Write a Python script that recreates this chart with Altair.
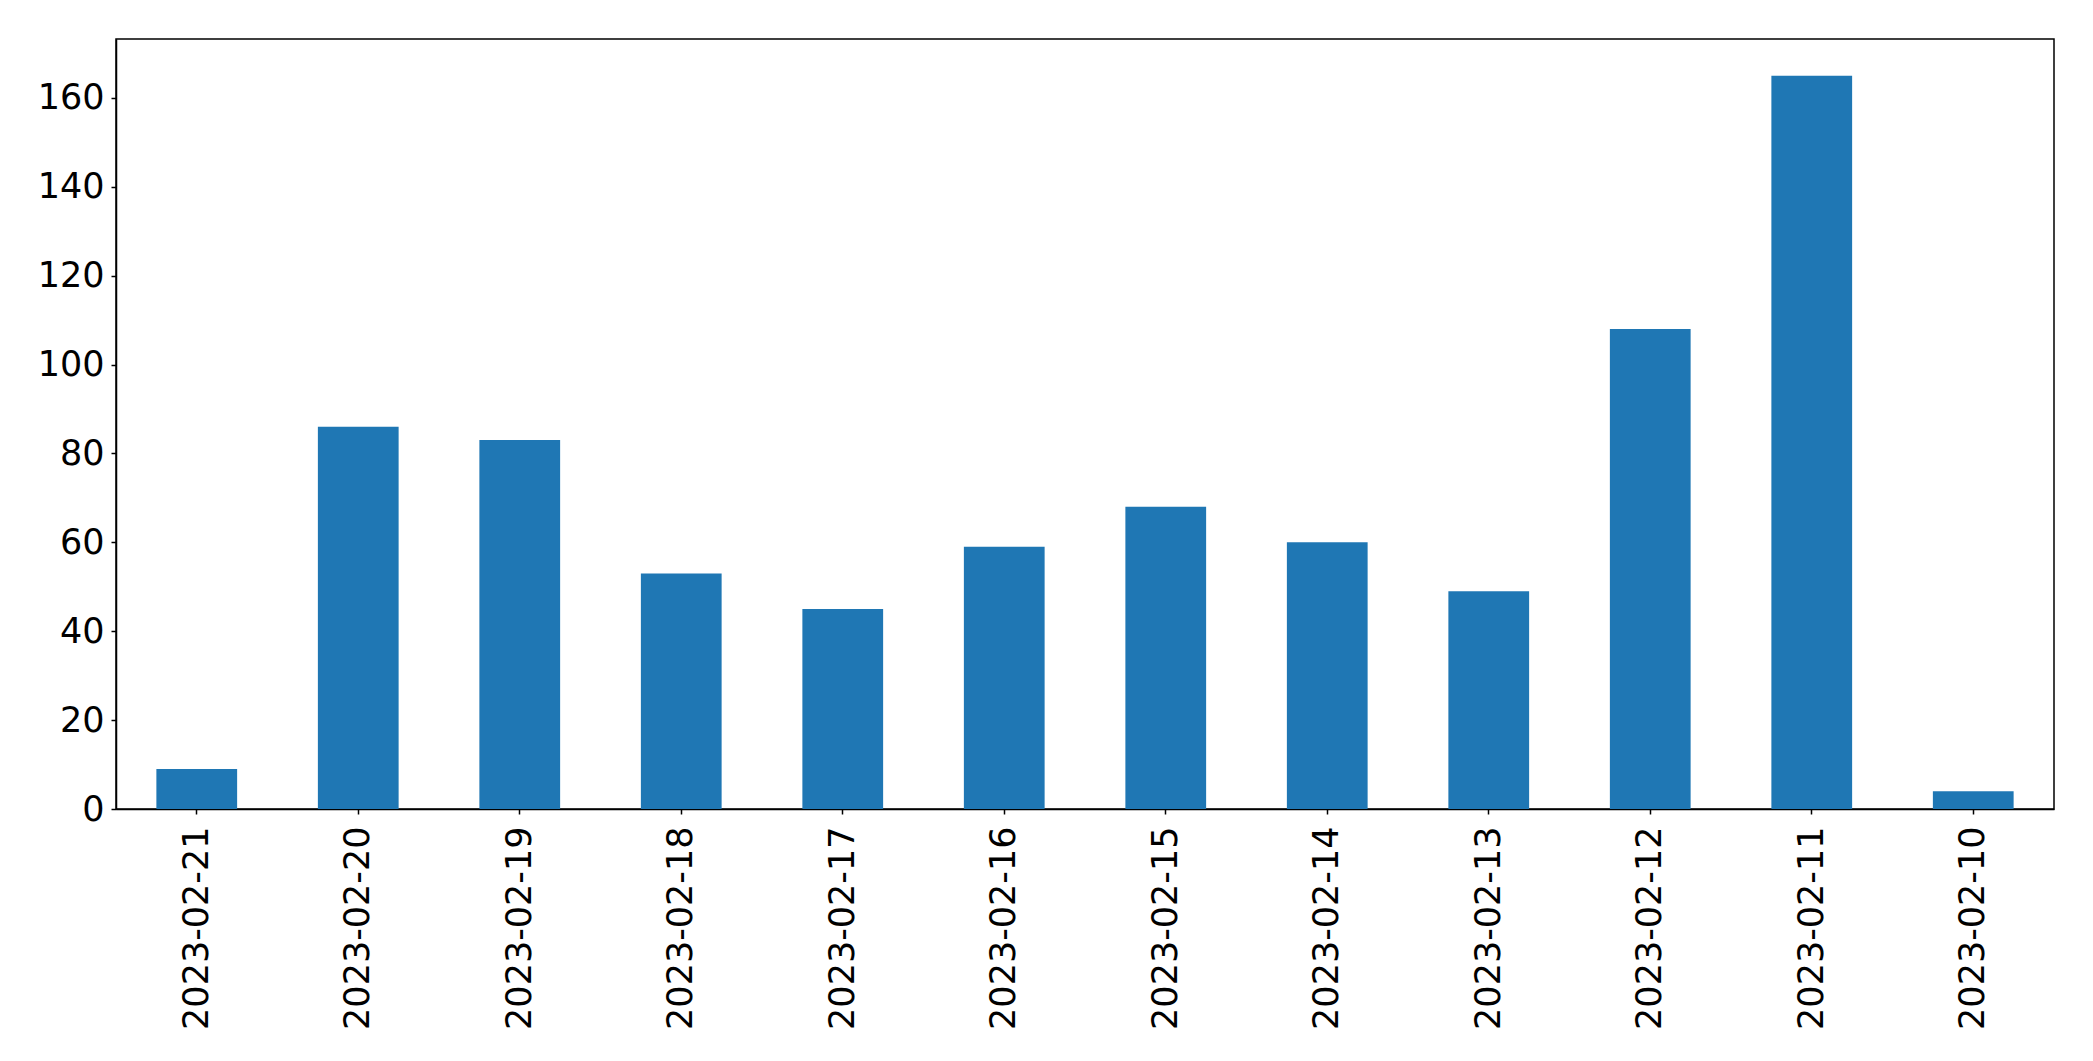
import altair as alt
import pandas as pd

dates = ["2023-02-21", "2023-02-20", "2023-02-19", "2023-02-18", "2023-02-17", "2023-02-16",
         "2023-02-15", "2023-02-14", "2023-02-13", "2023-02-12", "2023-02-11", "2023-02-10"]
counts = [9, 86, 83, 53, 45, 59, 68, 60, 49, 108, 165, 4]
y_ticks = [0, 20, 40, 60, 80, 100, 120, 140, 160]

df = pd.DataFrame({"date": dates, "count": counts})

chart = alt.Chart(df).mark_bar(color="#1f77b4").encode(
    x=alt.X("date:N", sort=None, title=None,
            scale=alt.Scale(paddingInner=0.5, paddingOuter=0.25),
            axis=alt.Axis(labelAngle=270, labelFontSize=35, labelFont="DejaVu Sans",
                          labelColor="black", tickColor="black", domainColor="black",
                          tickSize=5, tickWidth=1.5, domainWidth=1.5, labelPadding=12,
                          labelLimit=0, grid=False)),
    y=alt.Y("count:Q", title=None,
            scale=alt.Scale(domain=[0, 173.25], nice=False, zero=True),
            axis=alt.Axis(values=y_ticks, labelFontSize=35, labelFont="DejaVu Sans",
                          labelColor="black", tickColor="black", domainColor="black",
                          tickSize=5, tickWidth=1.5, domainWidth=1.5, labelPadding=7,
                          labelLimit=0, grid=False)),
).properties(
    width=1938,
    height=770,
    autosize=alt.AutoSizeParams(type="none"),
    padding={"left": 108, "top": 31, "right": 30, "bottom": 240},
).configure_view(
    stroke="black", strokeWidth=1.5
)

chart.save("out.html", embed_options={"renderer": "svg", "actions": False})
